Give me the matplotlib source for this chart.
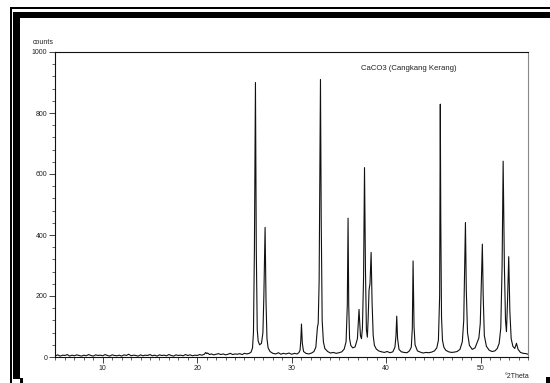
import matplotlib
matplotlib.use("Agg")
import matplotlib.pyplot as plt
from matplotlib.patches import Rectangle
from matplotlib.ticker import MultipleLocator

# XRD scan: (2theta, counts)
two_theta = [
    5.0, 5.25, 5.5, 5.75, 6.0, 6.25, 6.5, 6.75, 7.0, 7.25, 7.5, 7.75,
    8.0, 8.25, 8.5, 8.75, 9.0, 9.25, 9.5, 9.75, 10.0, 10.25, 10.5, 10.75,
    11.0, 11.25, 11.5, 11.75, 12.0, 12.25, 12.5, 12.75, 13.0, 13.25, 13.5, 13.75,
    14.0, 14.25, 14.5, 14.75, 15.0, 15.25, 15.5, 15.75, 16.0, 16.25, 16.5, 16.75,
    17.0, 17.25, 17.5, 17.75, 18.0, 18.25, 18.5, 18.75, 19.0, 19.25, 19.5, 19.75,
    20.0, 20.25, 20.5, 20.75, 20.9, 21.0, 21.1, 21.3, 21.5, 21.75, 22.0, 22.25,
    22.5, 22.75, 23.0, 23.25, 23.5, 23.75, 24.0, 24.25, 24.5, 24.75, 25.0, 25.25,
    25.5, 25.7, 25.85, 25.95, 26.05, 26.16, 26.25, 26.35, 26.45, 26.6, 26.8, 26.95,
    27.05, 27.18, 27.28, 27.38, 27.5, 27.7, 28.0, 28.3, 28.6, 28.85, 29.1, 29.4,
    29.7, 30.0, 30.3, 30.55, 30.75, 30.88, 30.96, 31.03, 31.12, 31.25, 31.5, 31.8,
    32.1, 32.35, 32.55, 32.65, 32.72, 32.8, 32.9, 32.98, 33.04, 33.12, 33.22, 33.35,
    33.5, 33.8, 34.1, 34.4, 34.7, 35.0, 35.3, 35.55, 35.75, 35.88, 35.96, 36.03,
    36.12, 36.25, 36.45, 36.7, 36.95, 37.12, 37.27, 37.38, 37.48, 37.6, 37.7, 37.8,
    37.9, 38.0, 38.08, 38.18, 38.28, 38.4, 38.5, 38.62, 38.75, 38.95, 39.2, 39.5,
    39.8, 40.1, 40.4, 40.7, 40.92, 41.03, 41.11, 41.2, 41.35, 41.6, 41.9, 42.2,
    42.45, 42.65, 42.76, 42.84, 42.94, 43.05, 43.3, 43.6, 43.9, 44.2, 44.5, 44.8,
    45.1, 45.35, 45.52, 45.65, 45.72, 45.77, 45.85, 45.95, 46.1, 46.3, 46.6, 46.9,
    47.2, 47.5, 47.8, 48.05, 48.2, 48.3, 48.38, 48.47, 48.6, 48.8, 49.1, 49.4,
    49.65, 49.8, 49.95, 50.07, 50.17, 50.26, 50.38, 50.6, 50.9, 51.2, 51.5, 51.75,
    51.95, 52.12, 52.26, 52.37, 52.5, 52.62, 52.72, 52.83, 52.96, 53.08, 53.22, 53.4,
    53.6, 53.78, 53.95, 54.2, 54.5, 54.8, 55.0,
]
counts = [
    4, 7, 3, 6, 5, 8, 3, 6, 4, 7, 5, 3,
    6, 4, 8, 5, 3, 7, 5, 6, 4, 8, 5, 3,
    7, 5, 4, 6, 3, 7, 5, 9, 4, 6, 5, 3,
    7, 4, 6, 5, 8, 4, 6, 3, 7, 5, 6, 4,
    8, 5, 3, 7, 5, 6, 4, 8, 5, 7, 4, 6,
    5, 8, 6, 9, 15, 11, 13, 8, 10, 7, 9, 11,
    8, 10, 7, 9, 12, 8, 10, 9, 11, 8, 12, 10,
    12, 16, 30, 80, 350, 900, 350, 90, 52, 40, 45, 80,
    200, 425, 180, 60, 30, 18, 12, 10, 14, 9, 12, 10,
    13, 9, 12, 10, 14, 22, 55, 108, 45, 18, 12, 10,
    13, 18, 32, 70, 98, 110, 250, 600, 910, 450, 120, 50,
    28, 18, 13, 15, 12, 14, 17, 26, 50, 170, 455, 170,
    60, 38, 30, 33, 60, 156, 70, 60, 95, 260, 621, 290,
    90, 65, 120, 220, 240, 343, 180, 70, 38, 26, 20, 17,
    15, 18, 14, 17, 32, 70, 134, 60, 25, 17, 15, 14,
    20, 32, 95, 315, 100, 40, 20, 16, 13, 15, 14, 16,
    20, 30, 55, 200, 829, 450, 130, 55, 32, 22, 17, 15,
    16, 18, 25, 50, 120, 300, 441, 220, 80, 38, 25, 30,
    50, 62, 110, 250, 370, 200, 70, 35, 22, 18, 20, 28,
    45, 95, 300, 642, 300, 120, 83, 180, 329, 150, 60, 35,
    28, 45, 25, 15, 12, 11, 9,
]

sample_label = "CaCO3 (Cangkang Kerang)"
x_ticks = [10, 20, 30, 40, 50]
y_ticks = [0, 200, 400, 600, 800, 1000]

W, H = 550, 383
plt.rcParams["font.family"] = ["Liberation Sans", "DejaVu Sans"]

fig = plt.figure(figsize=(W / 100, H / 100), dpi=100)
fig.patch.set_facecolor("white")


def box(x0, y0, x1, y1):
    # pixel box (y down) -> figure rectangle
    fig.add_artist(Rectangle((x0 / W, 1 - y1 / H), (x1 - x0) / W, (y1 - y0) / H,
                             transform=fig.transFigure, color="black", lw=0))


# frame with shadow
box(10, 7, 550, 9)
box(10, 7, 12, 383)
box(13, 12, 550, 18)
box(13, 12, 20, 379)
box(20, 378, 23, 383)
box(546, 377, 550, 383)

left, right, top, bottom = 55, 528, 52, 357
ax = fig.add_axes([left / W, 1 - bottom / H, (right - left) / W, (bottom - top) / H])
ax.plot(two_theta, counts, color="#111111", lw=0.8)

ax.set_xlim(4.95, 55)
ax.set_ylim(0, 1000)
ax.set_xticks(x_ticks)
ax.set_yticks(y_ticks)
ax.xaxis.set_minor_locator(MultipleLocator(1))
ax.yaxis.set_minor_locator(MultipleLocator(40))
ax.tick_params(which="major", length=4, width=0.6, labelsize=5, pad=1.5,
               color="#222", labelcolor="#222")
ax.tick_params(which="minor", length=2.5, width=0.5, color="#222")
for s in ["left", "top", "bottom"]:
    ax.spines[s].set_linewidth(0.8)
    ax.spines[s].set_color("#111")
ax.spines["right"].set_color("#888")
ax.spines["right"].set_linewidth(0.8)

ax.text(37.3, 945, sample_label, fontsize=5.6, ha="left", va="center", color="#222")
fig.text(33 / W, 1 - 43 / H, "counts", fontsize=5, ha="left", va="center", color="#222")
fig.text(505 / W, 1 - 376 / H, "°2Theta", fontsize=5, ha="left", va="center", color="#222")

fig.savefig("out.png", dpi=100)
